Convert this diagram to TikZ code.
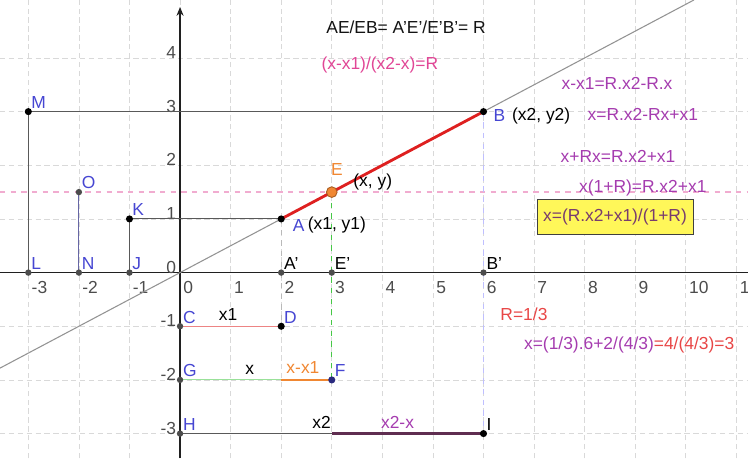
\documentclass[tikz,border=0pt]{standalone}
\usepackage{fontspec}
\setmainfont{Liberation Sans}
\usepackage{xcolor}
\usetikzlibrary{arrows.meta,positioning}

\definecolor{ptblue}{RGB}{70,70,210}
\definecolor{ggpink}{RGB}{225,70,150}
\definecolor{ggpurple}{RGB}{165,60,175}
\definecolor{ggred}{RGB}{222,32,32}
\definecolor{ggsalmon}{RGB}{232,70,70}
\definecolor{ggorange}{RGB}{240,135,50}
\definecolor{gggreen}{RGB}{70,200,70}
\definecolor{ggplum}{RGB}{95,45,80}
\definecolor{boxtext}{RGB}{120,60,110}

\begin{document}
\begin{tikzpicture}[x=1cm, y=1.061cm,
    every node/.style={font=\fontsize{9.8}{11}\selectfont},
    gridln/.style={gray!30, densely dashed, line width=0.4pt},
    axis/.style={gray!25!black, line width=0.7pt},
    seg/.style={gray!70!black, line width=0.6pt},
    guide/.style={dashed, line width=0.6pt},
    ptlab/.style={text=ptblue, inner sep=1.5pt},
    ticklab/.style={text=gray!60!black, inner sep=0pt},
    eqn/.style={text=ggpurple, inner sep=1pt},
    seglab/.style={inner sep=1pt},
  ]
  \useasboundingbox (-3.56,-3.46) rectangle (11.23,5.08);

  %% grid
  \foreach \i in {-3,...,11} \draw[gridln] (\i,-3.46) -- (\i,5.08);
  \foreach \j in {-3,...,4} \draw[gridln] (-3.56,\j) -- (11.23,\j);

  %% axes
  \coordinate (xaxL) at (-3.56,0);
  \coordinate (xaxR) at (11.23,0);
  \coordinate (yaxB) at (0,-3.46);
  \coordinate (yaxT) at (0,4.95);
  \draw[axis] (xaxL) -- (xaxR);
  \draw[axis, -{Stealth[length=5pt,width=4pt]}] (yaxB) -- (yaxT);
  \foreach \i in {-3,...,11}
    \node[ticklab, anchor=west] (xt\i) at (\i+0.06,-0.28) {\i};
  \foreach \j in {-3,...,4}
    \node[ticklab, anchor=east] (yt\j) at (-0.07,\j+0.1) {\j};

  %% points
  \coordinate (M)  at (-3,3);
  \coordinate (L)  at (-3,0);
  \coordinate (O)  at (-2,1.5);
  \coordinate (N)  at (-2,0);
  \coordinate (K)  at (-1,1);
  \coordinate (J)  at (-1,0);
  \coordinate (A)  at (2,1);
  \coordinate (E)  at (3,1.5);
  \coordinate (B)  at (6,3);
  \coordinate (Ap) at (2,0);
  \coordinate (Ep) at (3,0);
  \coordinate (Bp) at (6,0);
  \coordinate (C)  at (0,-1);
  \coordinate (D)  at (2,-1);
  \coordinate (G)  at (0,-2);
  \coordinate (Xa) at (2,-2);
  \coordinate (F)  at (3,-2);
  \coordinate (H)  at (0,-3);
  \coordinate (Xb) at (3,-3);
  \coordinate (I)  at (6,-3);
  \coordinate (Pl) at (-3.56,1.5);
  \coordinate (Pr) at (11.23,1.5);
  \coordinate (Ll) at (-3.56,-1.78);
  \coordinate (Lr) at (10.16,5.08);

  %% line y = x/2 and level y = 1.5
  \draw[seg, gray!85] (Ll) -- (Lr);
  \draw[dashed, ggpink!45, line width=0.7pt] (Pl) -- (Pr);

  %% construction segments
  \draw[seg] (M) -- (B);
  \draw[seg] (M) -- (L);
  \draw[seg] (K) -- (A);
  \draw[seg] (K) -- (J);
  \draw[seg, ptblue!45!gray] (O) -- (N);
  \draw[guide, gray!55] (A) -- (D);
  \draw[guide, blue!25] (B) -- (I);
  \draw[guide, gggreen] (E) -- (F);
  \draw[ggred, line width=1.6pt] (A) -- (B);

  %% lengths below the axis
  \draw[ggred!55, line width=0.6pt] (C) -- (D);
  \draw[gggreen!55, line width=0.6pt] (G) -- (F);
  \draw[ggorange, line width=1.6pt] (Xa) -- (F);
  \draw[seg] (H) -- (I);
  \draw[ggplum, line width=1.8pt] (Xb) -- (I);

  %% dots
  \foreach \p in {M,K,A,B,D,I} \fill[black] (\p) circle (2pt);
  \foreach \p in {L,N,J,O,Ap,Ep,Bp,C,G,H} \fill[gray!60!black] (\p) circle (1.8pt);
  \fill[ptblue!60!black] (F) circle (2pt);
  \filldraw[fill=ggorange, draw=ggorange!70!black, line width=0.5pt] (E) circle (3pt);

  %% point labels
  \node[ptlab, above right] (labM)  at (M)  {M};
  \node[ptlab, above right] (labO)  at (O)  {O};
  \node[ptlab, above right] (labK)  at (K)  {K};
  \node[ptlab, above right] (labL)  at (L)  {L};
  \node[ptlab, above right] (labN)  at (N)  {N};
  \node[ptlab, above right] (labJ)  at (J)  {J};
  \node[ptlab, anchor=west] (labA)  at (2.17,0.88) {A};
  \node[anchor=west, inner sep=0pt] (coA) at (labA.east) {(x1, y1)};
  \node[ptlab, anchor=west] (labB)  at (6.14,2.92) {B};
  \node[right=2pt of labB, inner sep=0pt] (coB) {(x2, y2)};
  \node[text=ggorange, inner sep=0pt] (labE) at (3.1,1.92) {E};
  \node[inner sep=0pt] (coE) at (3.81,1.69) {(x, y)};
  \node[above right, inner sep=1.5pt] (labAp) at (Ap) {A'};
  \node[above right, inner sep=1.5pt] (labEp) at (Ep) {E'};
  \node[above right, inner sep=1.5pt] (labBp) at (Bp) {B'};
  \node[ptlab, above right] (labC)  at (C)  {C};
  \node[ptlab, above right] (labD)  at (D)  {D};
  \node[ptlab, above right] (labG)  at (G)  {G};
  \node[ptlab, above right] (labF)  at (F)  {F};
  \node[ptlab, above right] (labH)  at (H)  {H};
  \node[above right, inner sep=1.5pt] (labI) at (I) {I};

  %% segment labels
  \node[seglab] (lx1)   at (0.95,-0.78) {x1};
  \node[seglab] (lx)    at (1.38,-1.81) {x};
  \node[seglab, text=ggorange] (lxx1) at (2.43,-1.77) {x-x1};
  \node[seglab] (lx2)   at (2.8,-2.79)  {x2};
  \node[seglab, text=ggpurple] (lx2x) at (4.3,-2.79) {x2-x};

  %% equations
  \node[text=gray!15!black] (ratio) at (4.47,4.58) {AE/EB= A'E'/E'B'= R};
  \node[text=ggpink] (ratx) at (3.95,3.87) {(x-x1)/(x2-x)=R};
  \node[eqn] (step1) at (8.64,3.52) {x-x1=R.x2-R.x};
  \node[eqn] (step2) at (9.15,2.94) {x=R.x2-Rx+x1};
  \node[eqn] (step3) at (8.66,2.16) {x+Rx=R.x2+x1};
  \node[eqn] (step4) at (9.15,1.58) {x(1+R)=R.x2+x1};
  \node[draw=gray!50!black, fill=yellow!65, text=boxtext,
        minimum width=3.08cm, minimum height=0.7cm, inner sep=2pt] (result)
        at (8.6,1.04) {x=(R.x2+x1)/(1+R)};
  \node[text=ggsalmon] (rval) at (6.8,-0.78) {R=1/3};
  \node (calc) at (8.88,-1.34)
        {\textcolor{ggpurple}{x=(1/3).6+2/(4/3)}\textcolor{ggsalmon}{=4/(4/3)=3}};
\end{tikzpicture}
\end{document}
